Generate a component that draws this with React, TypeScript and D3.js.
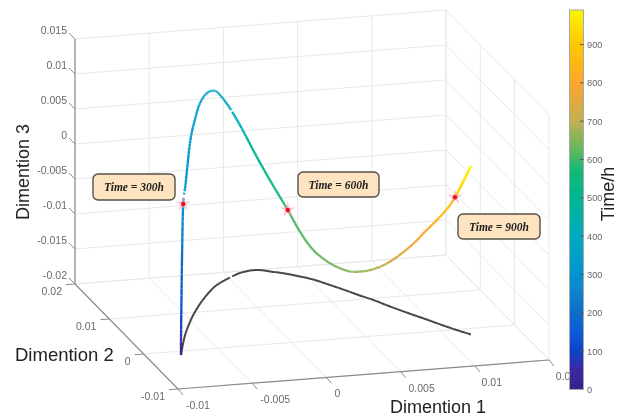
import React from "react";
import * as d3 from "d3";

// ---------- data ----------
const timeH = [0, 100, 200, 300, 318, 330, 338, 346, 355, 365, 375, 395, 430, 490, 545, 600, 612, 625, 640, 652, 662, 680, 715, 760, 800, 850, 900, 990];
const dim1 = [-0.00773, -0.00765, -0.00729, -0.00685, -0.00608, -0.00514, -0.00431, -0.00341, -0.00243, -0.00147, -0.00086, 0.0001, 0.00114, 0.00223, 0.00307, 0.00393, 0.00454, 0.00519, 0.0059, 0.00659, 0.00706, 0.00769, 0.00833, 0.00914, 0.00983, 0.0105, 0.01099, 0.01168];
const dim2 = [-0.00104, -0.00078, 0.00053, 0.0021, 0.0047, 0.00753, 0.00983, 0.0121, 0.01435, 0.01631, 0.01726, 0.01851, 0.0196, 0.01995, 0.01918, 0.01824, 0.01732, 0.01625, 0.01444, 0.01259, 0.0112, 0.00957, 0.0075, 0.00517, 0.00328, 0.00135, 0.00004, -0.00162];
const dim3 = [-0.02, -0.01514, -0.00657, -0.00014, 0.00143, 0.00553, 0.00733, 0.00867, 0.00881, 0.00804, 0.00686, 0.00417, 0.0006, -0.00381, -0.00737, -0.01086, -0.0136, -0.01579, -0.0169, -0.01714, -0.01667, -0.01561, -0.0136, -0.01043, -0.00721, -0.00397, -0.00111, 0.00407];

// small breaks visible in the plotted traces (time ranges)
const traceGaps = [[305, 307.5], [309.5, 311.5], [400, 404], [484.5, 485.5]];
const shadowGaps = [[396, 400]];

const ticksD1 = [-0.01, -0.005, 0, 0.005, 0.01, 0.015];
const ticksD2 = [-0.01, 0, 0.01, 0.02];
const ticksD3 = [-0.02, -0.015, -0.01, -0.005, 0, 0.005, 0.01, 0.015];
const ticksTime = [0, 100, 200, 300, 400, 500, 600, 700, 800, 900];

const calloutTimes = [300, 600, 900];
const calloutLabels = ["Time = 300h", "Time = 600h", "Time = 900h"];

const colorTimes = [0, 50, 100, 150, 200, 300, 400, 500, 570, 620, 700, 800, 850, 900, 950, 990];
const colorValues = ["#38208a", "#3a2aa0", "#0f42c8", "#0a5ad8", "#0d6dc8", "#0595d0", "#04aac0", "#00b890", "#12b878", "#5cb860", "#c0b050", "#ffa530", "#ffb810", "#ffc800", "#ffe000", "#f8f800"];

// ---------- layout ----------
const u = d3.scaleLinear().domain([-0.01, 0.015]).range([0, 1]);
const v = d3.scaleLinear().domain([0.02, -0.01]).range([0, 1]);
const h = d3.scaleLinear().domain([-0.02, 0.015]).range([0, 245]);
const project = (a: number, b: number, c: number): [number, number] => [
  75 + 371 * u(a) + 103 * v(b),
  284 - 29 * u(a) + 105 * v(b) - h(c),
];
const colour = d3.scaleLinear<string>().domain(colorTimes).range(colorValues).clamp(true);
const barY = d3.scaleLinear().domain([0, 990]).range([389.5, 10]);

const xLabelShift = [20, 23, 11, 21, 17, 20];

// Catmull-Rom subdivision of the knots, only to render a smooth colour ramp.
function smooth(vals: number[], i: number, s: number) {
  const p0 = vals[Math.max(i - 1, 0)], p1 = vals[i], p2 = vals[i + 1], p3 = vals[Math.min(i + 2, vals.length - 1)];
  return 0.5 * (2 * p1 + (p2 - p0) * s + (2 * p0 - 5 * p1 + 4 * p2 - p3) * s * s + (3 * p1 - p0 - 3 * p2 + p3) * s * s * s);
}
const STEPS = 10;
const samples: { t: number; a: number; b: number; c: number }[] = [];
for (let i = 0; i < timeH.length - 1; i++) {
  for (let k = 0; k < STEPS; k++) {
    const s = k / STEPS;
    samples.push({ t: timeH[i] + (timeH[i + 1] - timeH[i]) * s, a: smooth(dim1, i, s), b: smooth(dim2, i, s), c: smooth(dim3, i, s) });
  }
}
const last = timeH.length - 1;
samples.push({ t: timeH[last], a: dim1[last], b: dim2[last], c: dim3[last] });

const inGap = (t: number, gaps: number[][]) => gaps.some(([p, q]) => t >= p && t <= q);

const shadowPath = d3.line<{ t: number; a: number; b: number }>()
  .defined((d) => !inGap(d.t, shadowGaps))
  .x((d) => project(d.a, d.b, -0.02)[0])
  .y((d) => project(d.a, d.b, -0.02)[1])(samples) as string;

const GRID = "#e8e8e8";
const AXIS = "#8c8c8c";
const TICKTXT = "#6a6a6a";
const LABEL = "#222";
const SANS = "'Liberation Sans', Arial, sans-serif";
const SERIF = "'Liberation Serif', 'Times New Roman', serif";

const dMin = -0.01, dMax = 0.015, eMin = -0.01, eMax = 0.02, zMin = -0.02, zMax = 0.015;

function seg(p: [number, number], q: [number, number], stroke: string, key: string, w = 1) {
  return <line key={key} x1={p[0]} y1={p[1]} x2={q[0]} y2={q[1]} stroke={stroke} strokeWidth={w} />;
}
const fmt = (n: number) => String(n);

const calloutBoxes: [number, number, number, number][] = [[93, 174, 82, 26], [298, 172, 81, 25], [458, 214, 82, 25]];

export default function App() {
  const star = d3.symbol().type(d3.symbolStar).size(70)() as string;
  return (
    <svg width={618} height={418} viewBox="0 0 618 418" style={{ position: "fixed", left: 0, top: 0, background: "#fff" }}>
      <defs>
        <filter id="soft" x="-5%" y="-5%" width="110%" height="110%">
          <feGaussianBlur stdDeviation="0.55" />
        </filter>
        <linearGradient id="bar" x1="0" y1="1" x2="0" y2="0">
          {colorTimes.map((t, i) => (
            <stop key={t} offset={t / 990} stopColor={colorValues[i]} />
          ))}
        </linearGradient>
        <clipPath id="beforeBar">
          <rect x={0} y={0} width={569} height={418} />
        </clipPath>
      </defs>
      <g filter="url(#soft)">
        {/* back wall and floor grid along dimension 1 */}
        {ticksD1.map((t) => (
          <g key={`d1${t}`}>
            {seg(project(t, eMax, zMin), project(t, eMax, zMax), GRID, "w")}
            {seg(project(t, eMin, zMin), project(t, eMax, zMin), GRID, "f")}
          </g>
        ))}
        {ticksD3.map((t) => (
          <g key={`d3${t}`}>
            {seg(project(dMin, eMax, t), project(dMax, eMax, t), GRID, "b")}
            {seg(project(dMax, eMax, t), project(dMax, eMin, t), GRID, "r")}
          </g>
        ))}
        {ticksD2.map((t) => (
          <g key={`d2${t}`}>
            {seg(project(dMin, t, zMin), project(dMax, t, zMin), GRID, "f")}
            {seg(project(dMax, t, zMin), project(dMax, t, zMax), GRID, "r")}
          </g>
        ))}

        {/* axes */}
        {seg(project(dMin, eMax, zMin), project(dMin, eMax, zMax), AXIS, "az", 1.2)}
        {seg(project(dMin, eMax, zMin), project(dMin, eMin, zMin), AXIS, "ay", 1.2)}
        {seg(project(dMin, eMin, zMin), project(dMax, eMin, zMin), AXIS, "ax", 1.2)}

        {/* tick marks and tick labels */}
        {ticksD3.map((t) => {
          const [x, y] = project(dMin, eMax, t);
          return (
            <g key={`tz${t}`}>
              <line x1={x} y1={y} x2={x - 6} y2={y - 6} stroke={AXIS} />
              <text x={x - 8} y={y - 5} textAnchor="end" fontFamily={SANS} fontSize={10.5} fill={TICKTXT}>{fmt(t)}</text>
            </g>
          );
        })}
        {ticksD2.map((t) => {
          const [x, y] = project(dMin, t, zMin);
          return (
            <g key={`ty${t}`}>
              <line x1={x} y1={y} x2={x - 9} y2={y + 0.7} stroke={AXIS} />
              <text x={x - 13} y={y + 11} textAnchor="end" fontFamily={SANS} fontSize={10.5} fill={TICKTXT}>{fmt(t)}</text>
            </g>
          );
        })}
        {ticksD1.map((t, i) => {
          const [x, y] = project(t, eMin, zMin);
          return (
            <g key={`tx${t}`}>
              <line x1={x} y1={y} x2={x + 5} y2={y + 6} stroke={AXIS} />
              <text x={x + xLabelShift[i]} y={y + 20} textAnchor="middle" clipPath="url(#beforeBar)" fontFamily={SANS} fontSize={10.5} fill={TICKTXT}>{fmt(t)}</text>
            </g>
          );
        })}

        {/* shadow on the floor */}
        <path d={shadowPath} fill="none" stroke="#4a4a4a" strokeWidth={2} strokeLinecap="butt" />

        {/* time-coloured trajectory */}
        {samples.slice(1).map((d, i) => {
          if (inGap(d.t, traceGaps)) return null;
          const p = project(samples[i].a, samples[i].b, samples[i].c);
          const q = project(d.a, d.b, d.c);
          return (
            <line key={i} x1={p[0]} y1={p[1]} x2={q[0]} y2={q[1]} stroke={colour(d.t)}
              strokeWidth={d.t > 900 ? 2.6 : 2.3} strokeLinecap="butt" />
          );
        })}

        {/* markers */}
        {calloutTimes.map((t) => {
          const i = timeH.indexOf(t);
          const [x, y] = project(dim1[i], dim2[i], dim3[i]);
          return (
            <g key={t} transform={`translate(${x},${y})`}>
              <path d={star} fill="#ff9aa8" opacity={0.55} />
              <circle r={2.2} fill="#e8102a" />
            </g>
          );
        })}

        {/* colour bar */}
        <rect x={569.5} y={10} width={14} height={379.5} fill="url(#bar)" stroke="#a8a8a8" strokeWidth={1} />
        {ticksTime.map((t) => (
          <g key={t}>
            {t > 0 && <line x1={580} x2={583.5} y1={barY(t)} y2={barY(t)} stroke="#555" />}
            <text x={587} y={barY(t) + 3.5} fontFamily={SANS} fontSize={9.3} fill={TICKTXT}>{t}</text>
          </g>
        ))}

        {/* call-outs */}
        {calloutBoxes.map(([x, y, w, hh], i) => (
          <g key={i}>
            <rect x={x} y={y} width={w} height={hh} rx={5} fill="#fde3bf" stroke="#55504a" strokeWidth={1.4} />
            <text x={x + w / 2} y={y + hh / 2 + 4} textAnchor="middle" fontFamily={SERIF} fontStyle="italic" fontWeight="bold" fontSize={11.5} fill="#222">
              {calloutLabels[i]}
            </text>
          </g>
        ))}

        {/* axis titles */}
        <text transform="translate(29,172) rotate(-90)" textAnchor="middle" fontFamily={SANS} fontSize={18} fill={LABEL}>Dimention 3</text>
        <text x={15} y={361} fontFamily={SANS} fontSize={18.5} fill={LABEL}>Dimention 2</text>
        <text x={390} y={413} fontFamily={SANS} fontSize={18} fill={LABEL}>Dimention 1</text>
        <text transform="translate(613.5,194) rotate(-90)" textAnchor="middle" fontFamily={SANS} fontSize={18} fill={LABEL}>Time/h</text>
      </g>
    </svg>
  );
}
